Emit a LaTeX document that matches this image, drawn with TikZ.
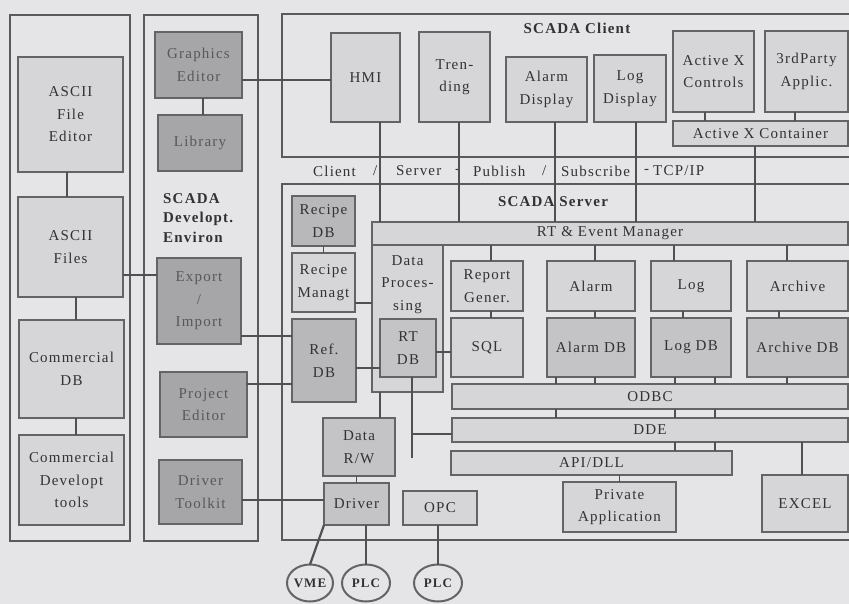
\documentclass[tikz,border=0pt]{standalone}
\usepackage{fontspec}
\setmainfont[LetterSpace=8]{Liberation Serif}
\usetikzlibrary{shapes.geometric}
\definecolor{bgc}{RGB}{229,229,231}
\definecolor{lightc}{RGB}{214,214,216}
\definecolor{midc}{RGB}{196,196,198}
\definecolor{deepc}{RGB}{184,184,186}
\definecolor{darkc}{RGB}{166,166,168}
\definecolor{boxc}{RGB}{100,100,100}
\definecolor{panelc}{RGB}{90,90,90}
\definecolor{linec}{RGB}{80,80,80}
\definecolor{textc}{RGB}{50,50,50}
\definecolor{dtextc}{RGB}{88,88,88}
\tikzset{
  fx/.style={x=1pt, y=-1pt, font=\fontsize{15}{22.5}\selectfont, text=textc},
  s box/.style={draw=boxc, line width=1.3pt, fill=lightc, align=center, inner sep=0pt, outer sep=0pt},
  s mid/.style={s box, fill=midc},
  s deep/.style={s box, fill=deepc},
  s dark/.style={s box, fill=darkc, text=dtextc},
  s panel/.style={draw=panelc, line width=2.6pt, fill=bgc, inner sep=0pt, outer sep=0pt},
  s title/.style={font=\fontsize{15}{19.5}\selectfont\bfseries, align=left, inner sep=0pt},
  s word/.style={inner sep=0pt, anchor=west},
  s bus/.style={s box, ellipse, line width=2pt, fill=bgc, font=\fontsize{13}{14}\selectfont\bfseries},
  s link/.style={draw=linec, line width=1.3pt},
  s wire/.style={draw=linec, line width=2.2pt},
}
\begin{document}
\begin{tikzpicture}[fx]
\useasboundingbox (0,0) rectangle (849,604);
\fill[bgc] (0,0) rectangle (849,604);
% panels
\node[s panel, minimum width=120pt, minimum height=526pt] (pl) at (70,278) {};
\node[s panel, minimum width=114pt, minimum height=526pt] (pd) at (201,278) {};
\node[s panel, minimum width=570pt, minimum height=143pt] (pc) at (567,85.5) {};
\node[s panel, minimum width=570pt, minimum height=356pt] (ps) at (567,362) {};
% files and databases
\node[s box, minimum width=105pt, minimum height=115pt] (afe) at (70.5,114.5) {ASCII\\File\\Editor};
\node[s box, minimum width=105pt, minimum height=100pt] (afi) at (70.5,247) {ASCII\\Files};
\node[s box, minimum width=105pt, minimum height=98pt] (cdb) at (71.5,369) {Commercial\\DB};
\node[s box, minimum width=105pt, minimum height=90pt] (cdt) at (71.5,480) {Commercial\\Developt\\tools};
% development environment
\node[s dark, minimum width=87pt, minimum height=66pt] (ged) at (198.5,65) {Graphics\\Editor};
\node[s dark, minimum width=84pt, minimum height=56pt] (lib) at (200,143) {Library};
\node[s title, anchor=west] (tdv) at (163,218) {SCADA\\Developt.\\Environ};
\node[s dark, minimum width=84pt, minimum height=86pt] (exi) at (199,301) {Export\\/\\Import};
\node[s dark, minimum width=87pt, minimum height=65pt] (ped) at (203.5,404.5) {Project\\Editor};
\node[s dark, minimum width=83pt, minimum height=64pt] (dtk) at (200.5,492) {Driver\\Toolkit};
% client
\node[s title] (tcl) at (577,28) {SCADA Client};
\node[s box, minimum width=69pt, minimum height=89pt] (hmi) at (365.5,77.5) {HMI};
\node[s box, minimum width=71pt, minimum height=90pt] (trd) at (454.5,77) {Tren-\\ding};
\node[s box, minimum width=81pt, minimum height=65pt] (ald) at (546.5,89.5) {Alarm\\Display};
\node[s box, minimum width=72pt, minimum height=67pt] (lgd) at (630,88.5) {Log\\Display};
\node[s box, minimum width=81pt, minimum height=81pt] (axc) at (713.5,71.5) {Active X\\Controls};
\node[s box, minimum width=83pt, minimum height=81pt] (tpa) at (806.5,71.5) {3rdParty\\Applic.};
\node[s box, minimum width=175pt, minimum height=25pt] (axr) at (760.5,133.5) {Active X Container};
\foreach \x/\t [count=\i] in {313/Client, 373/{/}, 396/Server, 455/-, 473/Publish, 542/{/}, 561/Subscribe, 644/-, 653/{TCP/IP}}
  \node[s word] (cs\i) at (\x,171) {\t};
% server
\node[s title] (tsv) at (553,202) {SCADA Server};
\node[s box, minimum width=476pt, minimum height=23pt] (rte) at (610,233.5) {RT \& Event Manager};
\node[s box, minimum width=71pt, minimum height=147pt,
  label={[align=center, anchor=north, yshift=-7pt]north:{Data\\Proces-\\sing}}] (dpr) at (407.5,318.5) {};
\node[s mid, minimum width=56pt, minimum height=58pt] (rtd) at (408,348) {RT\\DB};
\node[s deep, minimum width=63pt, minimum height=50pt] (rdb) at (323.5,221) {Recipe\\DB};
\node[s box, minimum width=63pt, minimum height=59pt] (rmg) at (323.5,282.5) {Recipe\\Managt};
\node[s deep, minimum width=64pt, minimum height=83pt] (fdb) at (324,360.5) {Ref.\\DB};
\node[s box, minimum width=72pt, minimum height=50pt] (rpg) at (487,286) {Report\\Gener.};
\node[s box, minimum width=72pt, minimum height=59pt] (sql) at (487,347.5) {SQL};
\node[s box, minimum width=88pt, minimum height=50pt] (alm) at (591,286) {Alarm};
\node[s mid, minimum width=88pt, minimum height=59pt] (adb) at (591,347.5) {Alarm DB};
\node[s box, minimum width=80pt, minimum height=50pt] (log) at (691,286) {Log};
\node[s mid, minimum width=80pt, minimum height=59pt] (ldb) at (691,347.5) {Log DB};
\node[s box, minimum width=101pt, minimum height=50pt] (arc) at (797.5,286) {Archive};
\node[s mid, minimum width=101pt, minimum height=59pt] (acdb) at (797.5,347.5) {Archive DB};
\node[s box, minimum width=396pt, minimum height=25pt] (odb) at (650,396.5) {ODBC};
\node[s box, minimum width=396pt, minimum height=24pt] (dde) at (650,430) {DDE};
\node[s box, minimum width=281pt, minimum height=24pt] (api) at (591.5,463) {API/DLL};
\node[s box, minimum width=113pt, minimum height=50pt] (pap) at (619.5,507) {Private\\Application};
\node[s box, minimum width=86pt, minimum height=57pt] (exc) at (805,503.5) {EXCEL};
\node[s mid, minimum width=72pt, minimum height=58pt] (drw) at (359,447) {Data\\R/W};
\node[s mid, minimum width=65pt, minimum height=42pt] (drv) at (356.5,504) {Driver};
\node[s box, minimum width=74pt, minimum height=34pt] (opc) at (440,508) {OPC};
% field devices
\node[s bus, minimum width=46pt, minimum height=37pt] (vme) at (310,583) {VME};
\node[s bus, minimum width=48pt, minimum height=37pt] (plc1) at (366,583) {PLC};
\node[s bus, minimum width=48pt, minimum height=37pt] (plc2) at (438,583) {PLC};
% links, left side
\draw[s link] ([xshift=-3.5pt]afe.south) -- ([xshift=-3.5pt]afe.south |- afi.north);
\draw[s link] ([xshift=4.5pt]cdb.north) -- ([xshift=4.5pt]cdb.north |- afi.south);
\draw[s link] ([xshift=4.5pt]cdt.north) -- ([xshift=4.5pt]cdt.north |- cdb.south);
\draw[s link] ([yshift=-28pt]afi.east) -- ([yshift=-28pt]afi.east -| exi.west);
\draw[s link] ([xshift=4.5pt]ged.south) -- ([xshift=4.5pt]ged.south |- lib.north);
\draw[s link] ([yshift=-15pt]ged.east) -- ([yshift=-15pt]ged.east -| hmi.west);
\draw[s link] ([yshift=-35pt]exi.east) -- ([yshift=-35pt]exi.east -| fdb.west);
\draw[s link] ([yshift=20.5pt]ped.east) -- ([yshift=20.5pt]ped.east -| fdb.west);
\draw[s link] ([yshift=-8pt]dtk.east) -- ([yshift=-8pt]dtk.east -| drv.west);
% links, client to server
\draw[s link] ([xshift=14.5pt]hmi.south) -- ([xshift=14.5pt]hmi.south |- rte.north);
\draw[s link] ([xshift=4.5pt]trd.south) -- ([xshift=4.5pt]trd.south |- rte.north);
\draw[s link] ([xshift=8.5pt]ald.south) -- ([xshift=8.5pt]ald.south |- rte.north);
\draw[s link] ([xshift=6pt]lgd.south) -- ([xshift=6pt]lgd.south |- rte.north);
\draw[s link] ([xshift=-5.5pt]axr.south) -- ([xshift=-5.5pt]axr.south |- rte.north);
\draw[s link] ([xshift=-8.5pt]axc.south) -- ([xshift=-8.5pt]axc.south |- axr.north);
\draw[s link] ([xshift=-11.5pt]tpa.south) -- ([xshift=-11.5pt]tpa.south |- axr.north);
% links, server
\draw[s link] (rmg.north) -- (rmg.north |- rdb.south);
\draw[s link] ([yshift=-20.5pt]rmg.east) -- ([yshift=-20.5pt]rmg.east -| dpr.west);
\draw[s link] ([yshift=-7.5pt]fdb.east) -- ([yshift=-7.5pt]fdb.east -| rtd.west);
\draw[s link] ([yshift=-4pt]rtd.east) -- ([yshift=-4pt]rtd.east -| sql.west);
\draw[s link] ([xshift=4pt]rpg.north) -- ([xshift=4pt]rpg.north |- rte.south);
\draw[s link] ([xshift=4pt]alm.north) -- ([xshift=4pt]alm.north |- rte.south);
\draw[s link] ([xshift=-17pt]log.north) -- ([xshift=-17pt]log.north |- rte.south);
\draw[s link] ([xshift=-10.5pt]arc.north) -- ([xshift=-10.5pt]arc.north |- rte.south);
\draw[s link] ([xshift=4pt]rpg.south) -- ([xshift=4pt]rpg.south |- sql.north);
\draw[s link] ([xshift=4pt]alm.south) -- ([xshift=4pt]alm.south |- adb.north);
\draw[s link] ([xshift=-8pt]log.south) -- ([xshift=-8pt]log.south |- ldb.north);
\draw[s link] ([xshift=-18.5pt]arc.south) -- ([xshift=-18.5pt]arc.south |- acdb.north);
\foreach \n/\d in {adb/-35, adb/4, ldb/-16, ldb/24, acdb/-10.5}
  \draw[s link] ([xshift=\d pt]\n.south) -- ([xshift=\d pt]\n.south |- odb.north);
\foreach \d in {-94, 25, 65}
  \draw[s link] ([xshift=\d pt]odb.south) -- ([xshift=\d pt]odb.south |- dde.north);
\foreach \d in {83.5, 123.5}
  \draw[s link] ([xshift=\d pt]api.north) -- ([xshift=\d pt]api.north |- dde.south);
\draw[s link] (pap.north) -- (pap.north |- api.south);
\draw[s link] ([xshift=-3pt]exc.north) -- ([xshift=-3pt]exc.north |- dde.south);
\coordinate (rtend) at (412,458);
\draw[s link] (rtend |- rtd.south) -- (rtend);
\draw[s link] ([yshift=-4pt]dde.west -| rtend) -- ([yshift=-4pt]dde.west);
\draw[s link] ([xshift=21pt]drw.north) -- ([xshift=21pt]drw.north |- dpr.south);
\draw[s link] (drv.north) -- (drv.north |- drw.south);
% field wiring
\draw[s wire] (drv.south west) -- (vme.north);
\draw[s wire] (plc1.north |- drv.south) -- (plc1.north);
\draw[s wire] (plc2.north |- opc.south) -- (plc2.north);
\end{tikzpicture}
\end{document}
